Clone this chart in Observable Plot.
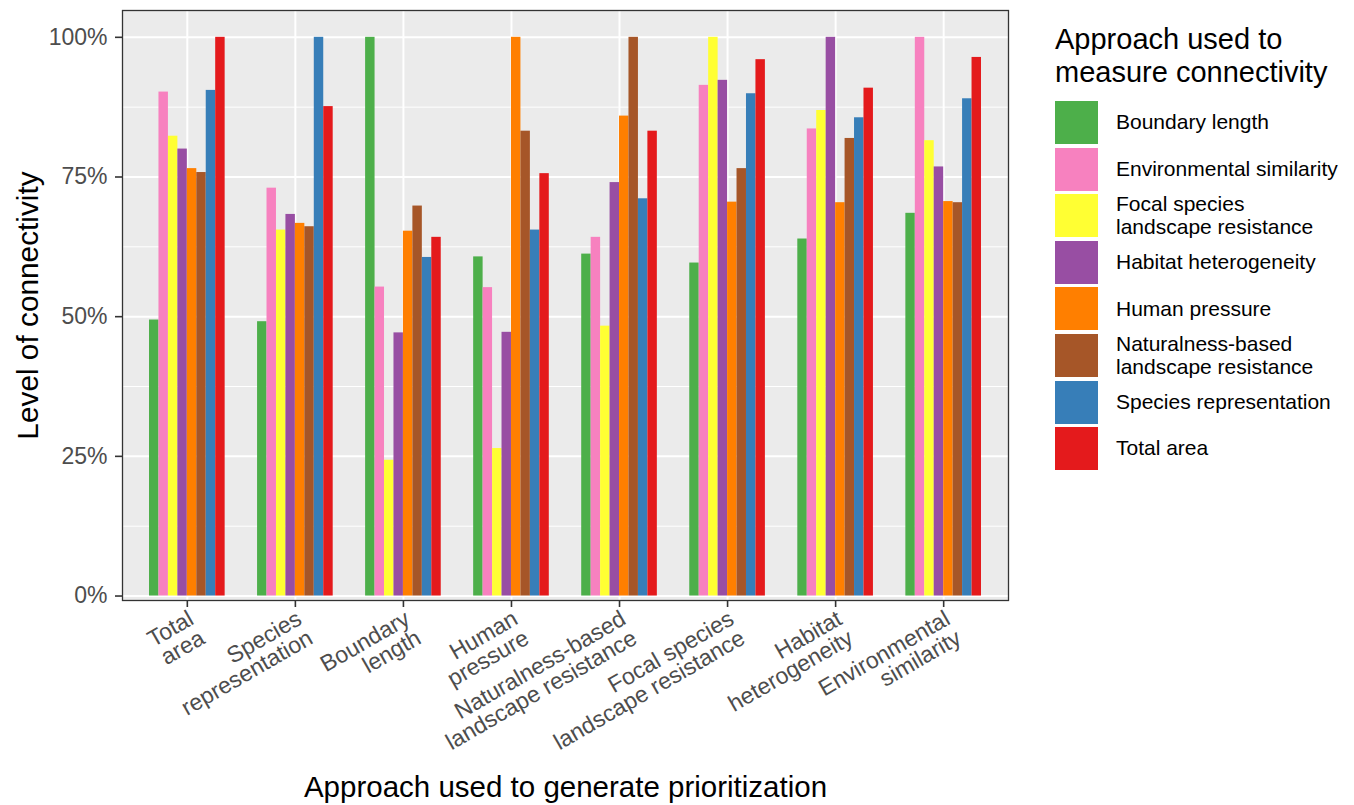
<!DOCTYPE html>
<html><head><meta charset="utf-8">
<script src="https://cdn.jsdelivr.net/npm/d3@7"></script>
<script src="https://cdn.jsdelivr.net/npm/@observablehq/plot@0.6"></script>
<style>
body{margin:0;background:#fff;font-family:"Liberation Sans",Arial,sans-serif;}
#wrap{position:relative;width:1354px;height:805px;overflow:hidden;background:#fff}
#wrap svg{position:absolute;left:0;top:0}
.legend-title{position:absolute;left:1055px;top:23px;font-size:29px;line-height:33px;color:#000;white-space:pre}
.key{position:absolute;left:1055px;width:43px;height:43px}
.lab{position:absolute;left:1116px;height:43px;display:flex;align-items:center;font-size:21px;line-height:22.5px;color:#000;white-space:pre}
</style></head><body><div id="wrap"></div>
<script>
// Categories (prioritization approaches), in axis order
const groups = ["Total area","Species representation","Boundary length","Human pressure","Naturalness-based landscape resistance","Focal species landscape resistance","Habitat heterogeneity","Environmental similarity"];
const groupLabels = ["Total\narea","Species\nrepresentation","Boundary\nlength","Human\npressure","Naturalness-based\nlandscape resistance","Focal species\nlandscape resistance","Habitat\nheterogeneity","Environmental\nsimilarity"];
// Series (connectivity measures)
const series = ["Boundary length","Environmental similarity","Focal species landscape resistance","Habitat heterogeneity","Human pressure","Naturalness-based landscape resistance","Species representation","Total area"];
const seriesLabels = ["Boundary length","Environmental similarity","Focal species\nlandscape resistance","Habitat heterogeneity","Human pressure","Naturalness-based\nlandscape resistance","Species representation","Total area"];
const colors = ["#4DAF4A","#F781BF","#FFFF33","#984EA3","#FF7F00","#A65628","#377EB8","#E41A1C"];
// Values (%) per series, one per category in the order of `groups`
const boundaryLength   = [49.4, 49.1, 100, 60.7, 61.2, 59.6, 63.9, 68.5];
const envSimilarity    = [90.2, 73.0, 55.3, 55.2, 64.2, 91.4, 83.6, 100];
const focalSpecies     = [82.3, 65.5, 24.3, 26.4, 48.3, 100, 86.9, 81.5];
const habitatHetero    = [80.0, 68.3, 47.1, 47.2, 74.0, 92.3, 100, 76.8];
const humanPressure    = [76.5, 66.7, 65.3, 100, 85.9, 70.5, 70.4, 70.6];
const naturalness      = [75.8, 66.1, 69.8, 83.2, 100, 76.5, 81.9, 70.4];
const speciesRep       = [90.5, 100, 60.6, 65.5, 71.1, 89.9, 85.6, 89.0];
const totalArea        = [100, 87.6, 64.2, 75.6, 83.2, 96.0, 90.9, 96.4];
const yTicks = [0, 25, 50, 75, 100];
const yMinor = [12.5, 37.5, 62.5, 87.5];

const seriesValues = [boundaryLength, envSimilarity, focalSpecies, habitatHetero, humanPressure, naturalness, speciesRep, totalArea];
const table = [];
series.forEach((s, si) => groups.forEach((g, gi) => table.push({group: g, series: s, value: seriesValues[si][gi]})));

const W = 1354, H = 805;
const margins = {marginLeft: 122, marginRight: 346, marginTop: 10, marginBottom: 205};
const yDomain = [-0.8, 104.8];
const font = "Liberation Sans, Arial, sans-serif";

const base = Plot.plot({
  width: W, height: H, ...margins,
  style: {fontFamily: font, background: "transparent", overflow: "visible"},
  x: {type: "point", domain: groups, padding: 0.6, round: false},
  y: {domain: yDomain},
  marks: [
    Plot.frame({fill: "#ebebeb", stroke: null}),
    Plot.ruleY(yMinor, {stroke: "#fff", strokeWidth: 1}),
    Plot.ruleY(yTicks, {stroke: "#fff", strokeWidth: 2}),
    Plot.ruleX(groups, {stroke: "#fff", strokeWidth: 2}),
    Plot.frame({stroke: "#333", strokeWidth: 1.3, fill: null}),
    Plot.axisY({ticks: yTicks, tickFormat: () => "", tickSize: 7, stroke: "#333", strokeWidth: 1.6, label: null}),
    Plot.text(yTicks, {y: d => d, text: d => d + "%", frameAnchor: "left", dx: -15, textAnchor: "end", fontSize: 23, fill: "#4d4d4d"}),
    Plot.axisX({tickFormat: () => "", tickSize: 7, stroke: "#333", strokeWidth: 1.6, label: null}),
    Plot.text(groups, {x: d => d, text: (d, i) => groupLabels[i], frameAnchor: "bottom", dy: 9, rotate: -30, textAnchor: "end", lineAnchor: "top", fontSize: 23, lineHeight: 0.97, fill: "#4d4d4d"}),
    Plot.text(["Level of connectivity"], {text: d => d, frameAnchor: "left", dx: -94, rotate: -90, textAnchor: "middle", fontSize: 29.8, fill: "#000"}),
    Plot.text(["Approach used to generate prioritization"], {text: d => d, frameAnchor: "bottom", dy: 196, textAnchor: "middle", fontSize: 29.5, fill: "#000"})
  ]
});

const bars = Plot.plot({
  width: W, height: H, ...margins,
  style: {fontFamily: font, background: "transparent"},
  fx: {domain: groups, paddingInner: 0.3, paddingOuter: 0.25, round: false, axis: null, label: null},
  x: {domain: series, padding: 0, round: false, axis: null},
  y: {domain: yDomain, axis: null},
  color: {domain: series, range: colors},
  marks: [
    Plot.barY(table, {fx: "group", x: "series", y: "value", fill: "series"})
  ]
});

const wrap = document.getElementById("wrap");
wrap.appendChild(base);
wrap.appendChild(bars);

// Legend
const title = document.createElement("div");
title.className = "legend-title";
title.textContent = "Approach used to\nmeasure connectivity";
wrap.appendChild(title);
series.forEach((s, i) => {
  const top = 101 + 46.6 * i;
  const k = document.createElement("div");
  k.className = "key";
  k.style.top = top + "px";
  k.style.background = colors[i];
  wrap.appendChild(k);
  const l = document.createElement("div");
  l.className = "lab";
  l.style.top = top + "px";
  l.textContent = seriesLabels[i];
  wrap.appendChild(l);
});
</script>
</body></html>
